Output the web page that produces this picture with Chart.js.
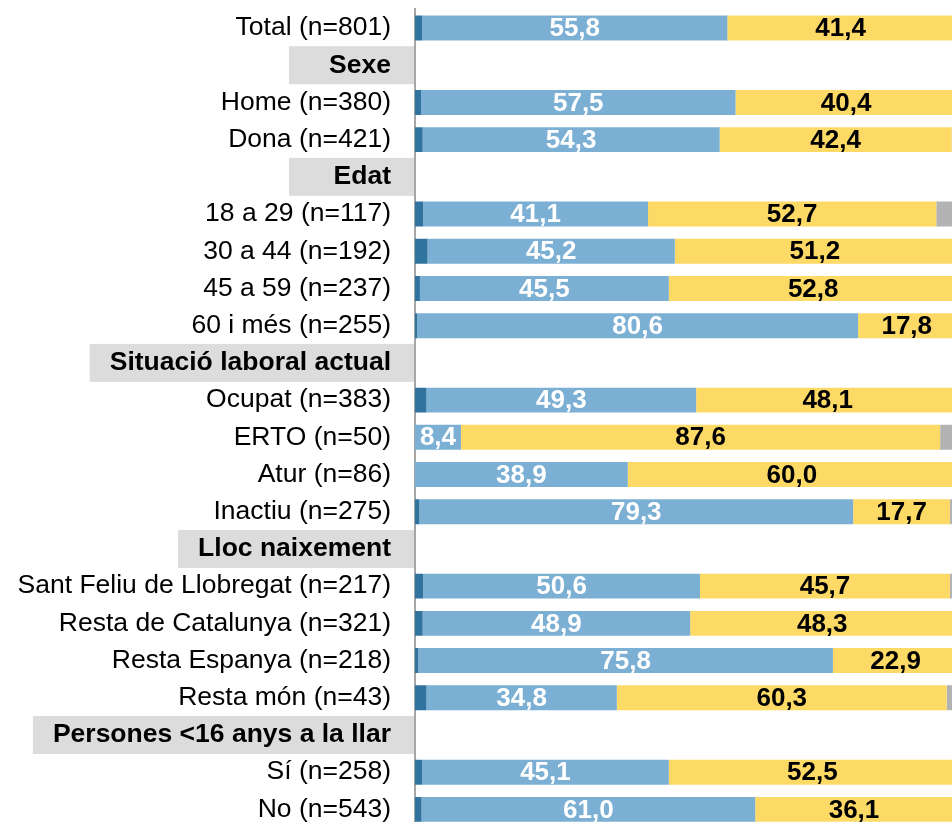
<!DOCTYPE html>
<html>
<head>
<meta charset="utf-8">
<script src="https://cdn.jsdelivr.net/npm/chart.js@4"></script>
<style>
    html, body { margin: 0; padding: 0; overflow: hidden; background: #fff; }
    canvas { display: block; }
</style>
</head>
<body>
<canvas id="chart" width="962" height="828"></canvas>
<script>
const categories = [
    'Total (n=801)', 'Sexe', 'Home (n=380)', 'Dona (n=421)',
    'Edat', '18 a 29 (n=117)', '30 a 44 (n=192)', '45 a 59 (n=237)', '60 i més (n=255)',
    'Situació laboral actual', 'Ocupat (n=383)', 'ERTO (n=50)', 'Atur (n=86)', 'Inactiu (n=275)',
    'Lloc naixement', 'Sant Feliu de Llobregat (n=217)', 'Resta de Catalunya (n=321)', 'Resta Espanya (n=218)', 'Resta món (n=43)',
    'Persones <16 anys a la llar', 'Sí (n=258)', 'No (n=543)'
];
const headers = ['Sexe', 'Edat', 'Situació laboral actual', 'Lloc naixement', 'Persones <16 anys a la llar'];

const darkBlue  = [1.3, null, 1.1, 1.4, null, 1.5, 2.3, 0.9, 0.4, null, 2.1, 0, 0, 0.8, null, 1.5, 1.4, 0.6, 2.1, null, 1.3, 1.2];
const lightBlue = [55.8, null, 57.5, 54.3, null, 41.1, 45.2, 45.5, 80.6, null, 49.3, 8.4, 38.9, 79.3, null, 50.6, 48.9, 75.8, 34.8, null, 45.1, 61.0];
const yellow    = [41.4, null, 40.4, 42.4, null, 52.7, 51.2, 52.8, 17.8, null, 48.1, 87.6, 60.0, 17.7, null, 45.7, 48.3, 22.9, 60.3, null, 52.5, 36.1];
const gray      = [1.5, null, 1.0, 1.9, null, 4.7, 1.3, 0.8, 1.2, null, 0.5, 4.0, 1.1, 2.2, null, 2.2, 1.4, 0.7, 2.8, null, 1.1, 1.7];

const FONT = "'Liberation Sans', Arial, sans-serif";
const LABEL_SIZE = 26.5;

// gray boxes behind the group headings
const headerBoxes = {
    id: 'headerBoxes',
    beforeDraw(chart) {
        const { ctx, chartArea } = chart;
        const yScale = chart.scales.y;
        const textRight = chartArea.left - 24;
        ctx.save();
        ctx.font = 'bold ' + LABEL_SIZE + 'px ' + FONT;
        headers.forEach(h => {
            const i = categories.indexOf(h);
            const y = yScale.getPixelForValue(i);
            const w = ctx.measureText(h).width;
            const left = Math.min(289, textRight - w - 20);
            ctx.fillStyle = '#dcdcdc';
            ctx.fillRect(left, y - 19, chartArea.left - 1 - left, 38);
        });
        ctx.restore();
    }
};

// value labels inside the blue and yellow segments
const valueLabels = {
    id: 'valueLabels',
    afterDatasetsDraw(chart) {
        const { ctx } = chart;
        ctx.save();
        ctx.font = 'bold 26px ' + FONT;
        ctx.textAlign = 'center';
        ctx.textBaseline = 'middle';
        [1, 2].forEach(di => {
            const ds = chart.data.datasets[di];
            chart.getDatasetMeta(di).data.forEach((bar, i) => {
                const v = ds.data[i];
                if (v === null || v === undefined) return;
                ctx.fillStyle = di === 1 ? '#ffffff' : '#000000';
                ctx.fillText(v.toFixed(1).replace('.', ','), (bar.x + bar.base) / 2, bar.y + 1);
            });
        });
        ctx.restore();
    }
};

const data = {
    labels: categories,
    datasets: [
        { label: 'd1', data: darkBlue, backgroundColor: '#31739f' },
        { label: 'd2', data: lightBlue, backgroundColor: '#7bafd4' },
        { label: 'd3', data: yellow, backgroundColor: '#fdd965' },
        { label: 'd4', data: gray, backgroundColor: '#b3b3b3' }
    ]
};

const config = {
    type: 'bar',
    data: data,
    options: {
        indexAxis: 'y',
        responsive: false,
        animation: false,
        layout: { padding: { top: 9.4, right: 0, bottom: 0, left: 0 } },
        datasets: {
            bar: { categoryPercentage: 1, barPercentage: 0.67, borderWidth: 0 }
        },
        plugins: {
            legend: { display: false },
            tooltip: { enabled: false },
            title: { display: false }
        },
        scales: {
            x: {
                stacked: true,
                min: 0,
                max: 100,
                display: false
            },
            y: {
                stacked: true,
                grid: { display: false, drawTicks: false },
                border: { display: true, color: '#a6a6a6', width: 2 },
                ticks: {
                    padding: 24,
                    color: '#000',
                    autoSkip: false,
                    font: (c) => ({
                        family: FONT,
                        size: LABEL_SIZE,
                        weight: headers.includes(categories[c.index]) ? 'bold' : 'normal'
                    })
                },
                afterFit: (scale) => {
                    scale.width = 415;
                    scale.paddingTop = 0;
                    scale.paddingBottom = 0;
                }
            }
        }
    },
    plugins: [headerBoxes, valueLabels]
};

const ctx = document.getElementById('chart').getContext('2d');
new Chart(ctx, config);
</script>
</body>
</html>
